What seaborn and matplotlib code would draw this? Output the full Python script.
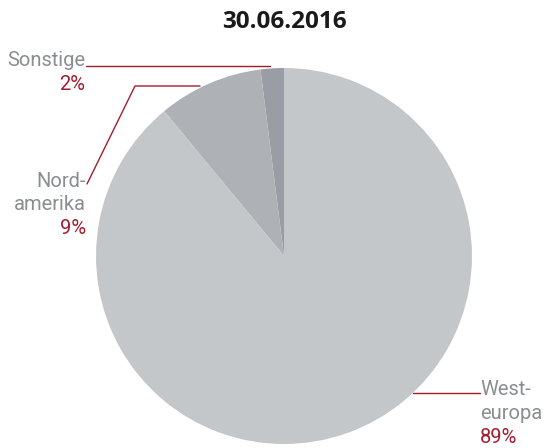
import matplotlib.pyplot as plt
import seaborn as sns

# Daten
regionen = ["Sonstige", "Nordamerika", "Westeuropa"]
anteile = [2, 9, 89]
label_namen = ["Sonstige", "Nord-\namerika", "West-\neuropa"]
label_prozent = ["2%", "9%", "89%"]
titel = "30.06.2016"

farben = ["#9a9da3", "#aeb1b5", "#c4c7ca"]
grau = "#8a8d92"
rot = "#a51d2d"

sns.set_style("white")
plt.rcParams["font.family"] = ["Roboto", "DejaVu Sans"]

W, H = 544, 448
fig = plt.figure(figsize=(W / 100, H / 100), dpi=100)
ax = fig.add_axes([0, 0, 1, 1])


def py(y):
    # Pixelkoordinate (von oben) -> Datenkoordinate
    return H - y


ax.pie(anteile, colors=farben, startangle=90, counterclock=True,
       center=(284, py(256)), radius=188, frame=True,
       wedgeprops=dict(linewidth=0))
ax.set_xlim(0, W)
ax.set_ylim(0, H)
ax.set_aspect("equal")
ax.axis("off")

fig.text(284 / W, 1 - 28 / H, titel, ha="center", va="baseline",
         fontsize=17.5, fontweight="bold", color="#1a1a1a",
         family=["Open Sans", "DejaVu Sans"])

lw = 1.0
# Führungslinien
ax.plot([86, 270], [py(66), py(66)], color=rot, lw=lw)
ax.plot([87, 135, 200], [py(184), py(86), py(86)], color=rot, lw=lw)
ax.plot([413, 480], [py(393), py(393)], color=rot, lw=lw)

fs = 14.5
txt = dict(fontsize=fs, fontweight="normal", va="baseline")

# Sonstige
ax.text(85, py(66), regionen[0], ha="right", color=grau, **txt)
ax.text(85, py(90), label_prozent[0], ha="right", color=rot, **txt)

# Nordamerika
n1, n2 = label_namen[1].split("\n")
ax.text(86, py(187), n1, ha="right", color=grau, **txt)
ax.text(86, py(210), n2, ha="right", color=grau, **txt)
ax.text(86, py(234), label_prozent[1], ha="right", color=rot, **txt)

# Westeuropa
w1, w2 = label_namen[2].split("\n")
ax.text(480, py(395), w1, ha="left", color=grau, **txt)
ax.text(480, py(419), w2, ha="left", color=grau, **txt)
ax.text(480, py(443), label_prozent[2], ha="left", color=rot, **txt)

fig.savefig("out.png", dpi=100)
